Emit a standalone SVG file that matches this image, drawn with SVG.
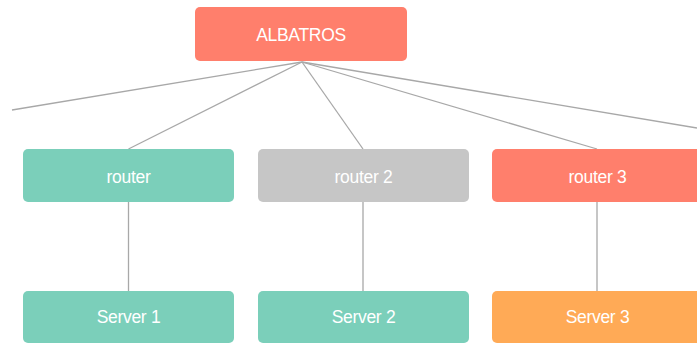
<svg xmlns="http://www.w3.org/2000/svg" width="697" height="345" viewBox="0 0 697 345">
<style>
.n rect{rx:5;ry:5}
.n text{font-family:"Liberation Sans",Arial,sans-serif;font-size:17.5px;letter-spacing:-0.3px;fill:#fff;text-anchor:middle;dominant-baseline:central}
.red rect{fill:#FF7F6C}
.teal rect{fill:#7BCFBA}
.grey rect{fill:#C6C6C6}
.orange rect{fill:#FFAA56}
#edges line{stroke:#A8A8A8;stroke-width:1.3}
</style>
<rect width="697" height="345" fill="#fff"/>
<g id="edges">
<line x1="302" y1="62" x2="12" y2="110"/>
<line x1="302" y1="62" x2="128.5" y2="149"/>
<line x1="302" y1="62" x2="363" y2="149"/>
<line x1="302" y1="62" x2="597" y2="149"/>
<line x1="302" y1="62" x2="697" y2="128"/>
<line x1="128.5" y1="202" x2="128.5" y2="291"/>
<line x1="363" y1="202" x2="363" y2="291"/>
<line x1="597" y1="202" x2="597" y2="291"/>
</g>
<g id="albatros" class="n red"><rect x="195" y="7" width="212" height="54"/><text x="301" y="35">ALBATROS</text></g>
<g id="router" class="n teal"><rect x="23" y="149" width="211" height="53"/><text x="128.5" y="177">router</text></g>
<g id="router2" class="n grey"><rect x="258" y="149" width="211" height="53"/><text x="363.5" y="177">router 2</text></g>
<g id="router3" class="n red"><rect x="492" y="149" width="211" height="53"/><text x="597.5" y="177">router 3</text></g>
<g id="server1" class="n teal"><rect x="23" y="291" width="211" height="52"/><text x="128.5" y="317">Server 1</text></g>
<g id="server2" class="n teal"><rect x="258" y="291" width="211" height="52"/><text x="363.5" y="317">Server 2</text></g>
<g id="server3" class="n orange"><rect x="492" y="291" width="211" height="52"/><text x="597.5" y="317">Server 3</text></g>
</svg>
